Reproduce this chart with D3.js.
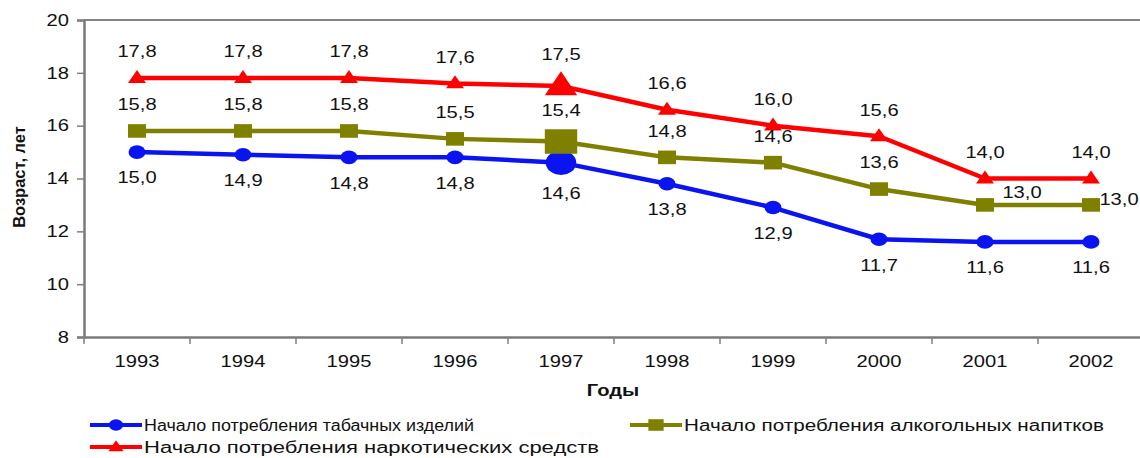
<!DOCTYPE html>
<html>
<head>
<meta charset="utf-8">
<script src="https://cdn.jsdelivr.net/npm/d3@7/dist/d3.min.js"></script>
<style>
  html, body { margin: 0; padding: 0; background: #fff; }
  svg { display: block; font-family: "Liberation Sans", Arial, sans-serif; }
</style>
</head>
<body>
<svg id="chart" width="1140" height="458"></svg>
<script>
// ---- data ----
const years = [1993, 1994, 1995, 1996, 1997, 1998, 1999, 2000, 2001, 2002];
const tobacco = [15.0, 14.9, 14.8, 14.8, 14.6, 13.8, 12.9, 11.7, 11.6, 11.6];
const alcohol = [15.8, 15.8, 15.8, 15.5, 15.4, 14.8, 14.6, 13.6, 13.0, 13.0];
const drugs   = [17.8, 17.8, 17.8, 17.6, 17.5, 16.6, 16.0, 15.6, 14.0, 14.0];
const yTicks = [8, 10, 12, 14, 16, 18, 20];
const seriesNames = [
  "Начало потребления табачных изделий",
  "Начало потребления алкогольных напитков",
  "Начало потребления наркотических средств"
];
const xTitle = "Годы";
const yTitle = "Возраст, лет";
const highlightYear = 1997;

(function () {
// ---- setup ----
const SX = 1.26; // horizontal text stretch seen in the reference
const svg = d3.select("#chart");
const pL = 84, pR = 1144, pT = 20, pB = 337;
const x = d3.scaleBand().domain(years).range([pL, pR]);
const y = d3.scaleLinear().domain([8, 20]).range([pB, pT]);
const fmt = v => d3.format(".1f")(v).replace(".", ",");

const series = [
  { name: seriesNames[0], values: tobacco, color: "#0a14f0", shape: "circle", labelPos: "below" },
  { name: seriesNames[1], values: alcohol, color: "#808000", shape: "square", labelPos: "above" },
  { name: seriesNames[2], values: drugs,   color: "#ff0000", shape: "triangle", labelPos: "above" }
];

// plot frame
svg.append("line").attr("x1", pL).attr("x2", pR).attr("y1", pT).attr("y2", pT)
  .attr("stroke", "#858585").attr("stroke-width", 2);

// y axis
const yAxis = svg.append("g").attr("transform", `translate(${pL},0)`)
  .call(d3.axisLeft(y).tickValues(yTicks).tickSize(7).tickFormat(d3.format("d")));
yAxis.select(".domain").attr("stroke", "#7a7a7a").attr("stroke-width", 2.5);
yAxis.selectAll(".tick line").attr("stroke", "#808080").attr("stroke-width", 1.5);
yAxis.selectAll(".tick text")
  .attr("x", 0).attr("dy", null).attr("dominant-baseline", "central")
  .attr("transform", `translate(-15,0) scale(${SX},1)`)
  .attr("font-size", 16).attr("fill", "#111").attr("font-family", "Liberation Sans, Arial, sans-serif");

// x axis
const xAxis = svg.append("g").attr("transform", `translate(0,${pB})`)
  .call(d3.axisBottom(x).tickSize(0).tickPadding(0));
xAxis.select(".domain").attr("stroke", "#7a7a7a").attr("stroke-width", 2.5);
xAxis.selectAll(".tick text")
  .attr("y", 0).attr("dy", null).attr("dominant-baseline", "central")
  .attr("transform", `translate(0,25) scale(${SX},1)`)
  .attr("font-size", 16).attr("fill", "#111").attr("font-family", "Liberation Sans, Arial, sans-serif");
// boundary ticks between categories
const bounds = years.map(d => x(d)).concat([x(years[years.length - 1]) + x.bandwidth()]);
svg.append("g").selectAll("line").data(bounds)
  .join("line")
  .attr("x1", d => d).attr("x2", d => d)
  .attr("y1", pB).attr("y2", pB + 7)
  .attr("stroke", "#808080").attr("stroke-width", 1.5);

// titles
svg.append("text")
  .attr("transform", `translate(${(pL + 1140) / 2 + 1},391) scale(${SX},1)`)
  .attr("text-anchor", "middle").attr("dominant-baseline", "central")
  .attr("font-size", 16).attr("font-weight", "bold").attr("fill", "#111").text(xTitle);
svg.append("text")
  .attr("transform", `translate(19,177) rotate(-90)`)
  .attr("text-anchor", "middle").attr("dominant-baseline", "central")
  .attr("font-size", 16.5).attr("font-weight", "bold").attr("fill", "#111").text(yTitle);

// marker drawing
function marker(g, shape, color, big) {
  const k = big ? 1.8 : 1;
  if (shape === "circle") {
    g.append("ellipse").attr("rx", 8.5 * k).attr("ry", 6.8 * k).attr("fill", color);
  } else if (shape === "square") {
    g.append("rect").attr("x", -9 * k).attr("y", -6.8 * k)
      .attr("width", 18 * k).attr("height", 13.6 * k).attr("fill", color);
  } else {
    const w = 9 * k, h = big ? 24 : 13;
    g.append("path").attr("d", `M0,${-h * 0.62}L${w},${h * 0.38}L${-w},${h * 0.38}Z`).attr("fill", color);
  }
}

const line = d3.line().x((d, i) => x(years[i]) + x.bandwidth() / 2).y(d => y(d));

series.forEach(s => {
  svg.append("path").datum(s.values).attr("d", line)
    .attr("fill", "none").attr("stroke", s.color).attr("stroke-width", 4.5).attr("stroke-linejoin", "round");
});

series.forEach(s => {
  s.values.forEach((v, i) => {
    const cx = x(years[i]) + x.bandwidth() / 2, cy = y(v);
    const big = years[i] === highlightYear;
    const g = svg.append("g").attr("transform", `translate(${cx},${cy})`);
    marker(g, s.shape, s.color, big);
  });
});

// data labels
series.forEach(s => {
  s.values.forEach((v, i) => {
    const cx = x(years[i]) + x.bandwidth() / 2, cy = y(v);
    const big = years[i] === highlightYear;
    let dx = 0, dy = (s.labelPos === "below" ? 26 : -26) * (big ? 1.2 : 1);
    if (s.shape === "square" && i === years.length - 2) { dx = 37; dy = -12; }
    if (s.shape === "square" && i === years.length - 1) { dx = 28; dy = -5; }
    svg.append("text")
      .attr("transform", `translate(${cx + dx},${cy + dy}) scale(${SX},1)`)
      .attr("text-anchor", "middle").attr("dominant-baseline", "central")
      .attr("font-size", 16).attr("fill", "#111").text(fmt(v));
  });
});

// legend
const legendItems = [
  { s: series[0], x: 90, y: 425, len: 330 },
  { s: series[1], x: 630, y: 425, len: 420 },
  { s: series[2], x: 90, y: 447, len: 455 }
];
legendItems.forEach(it => {
  const g = svg.append("g").attr("transform", `translate(${it.x},${it.y})`);
  g.append("line").attr("x1", 0).attr("x2", 52).attr("stroke", it.s.color).attr("stroke-width", 4);
  const mg = g.append("g").attr("transform", "translate(26,0) scale(0.85)");
  marker(mg, it.s.shape, it.s.color, false);
  g.append("text").attr("x", 54)
    .attr("textLength", it.len).attr("lengthAdjust", "spacingAndGlyphs")
    .attr("dominant-baseline", "central").attr("font-size", 16).attr("fill", "#111").text(it.s.name);
});
})();
</script>
</body>
</html>
